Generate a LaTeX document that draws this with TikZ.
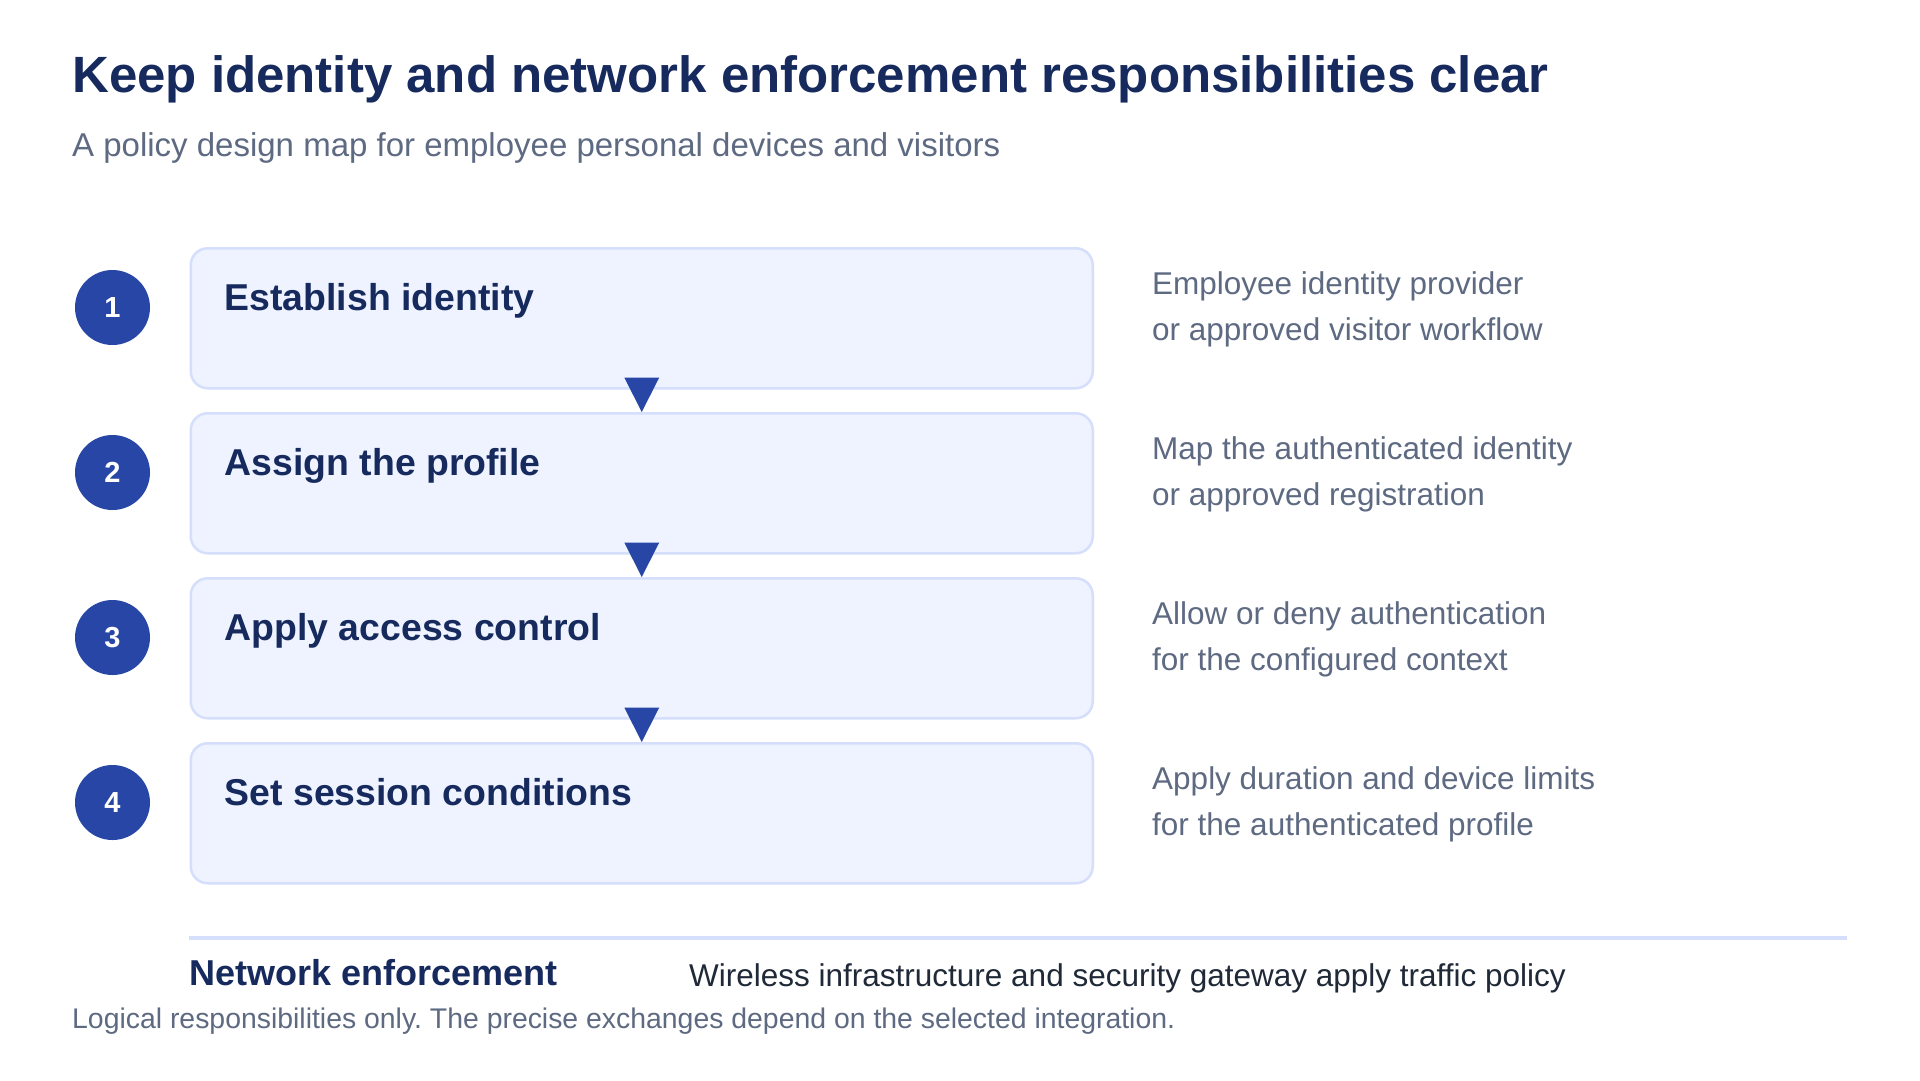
\documentclass[tikz,border=0pt]{standalone}
\usepackage{fontspec}
\setmainfont{Liberation Sans}
\usetikzlibrary{calc}
\frenchspacing
\definecolor{titlecol}{HTML}{172A5E}
\definecolor{subcol}{HTML}{5E6A82}
\definecolor{boxfill}{HTML}{EEF3FF}
\definecolor{boxline}{HTML}{D5DFFC}
\definecolor{accent}{HTML}{2846A6}
\definecolor{bodycol}{HTML}{1F2937}
\tikzset{
  stepbox/.style={draw=boxline, line width=2.5pt, fill=boxfill, rounded corners=17pt,
    minimum width=902pt, minimum height=140pt, anchor=north west, inner sep=0pt},
  numcircle/.style={circle, fill=accent, minimum size=75pt, inner sep=0pt,
    text=white, font=\bfseries\fontsize{29pt}{34pt}\selectfont},
  boxtitle/.style={anchor=base west, inner sep=0pt, text=titlecol,
    font=\bfseries\fontsize{37.4pt}{44pt}\selectfont},
  desc/.style={anchor=base west, inner sep=0pt, text=subcol,
    font=\fontsize{31.5pt}{38pt}\selectfont},
  arrowtri/.style={fill=accent},
  sepline/.style={draw=boxline, line width=3.5pt},
}
\begin{document}
\begin{tikzpicture}[x=1pt,y=-1pt]
\useasboundingbox[fill=white] (0,0) rectangle (1920,1080);

\node[anchor=base west, inner sep=0pt, text=titlecol, font=\bfseries\fontsize{51pt}{60pt}\selectfont]
  (title) at (72,92) {Keep identity and network enforcement responsibilities clear};
\node[anchor=base west, inner sep=0pt, text=subcol, font=\fontsize{33pt}{40pt}\selectfont]
  (subtitle) at (72,156) {A policy design map for employee personal devices and visitors};

% boxes
\node[stepbox] (b1) at (189.5,247) {};
\node[stepbox] (b2) at (189.5,412) {};
\node[stepbox] (b3) at (189.5,577) {};
\node[stepbox] (b4) at (189.5,742) {};

% numbers
\node[numcircle] (c1) at (112.5,307.5) {1};
\node[numcircle] (c2) at (112.5,472.5) {2};
\node[numcircle] (c3) at (112.5,637.5) {3};
\node[numcircle] (c4) at (112.5,802.5) {4};

% titles
\node[boxtitle] (t1) at ($(b1.north west)+(35,63.5)$) {Establish identity};
\node[boxtitle] (t2) at ($(b2.north west)+(35,63.5)$) {Assign the profile};
\node[boxtitle] (t3) at ($(b3.north west)+(35,63.5)$) {Apply access control};
\node[boxtitle] (t4) at ($(b4.north west)+(35,63.5)$) {Set session conditions};

% descriptions
\node[desc] (d1a) at (1152,294.5) {Employee identity provider};
\node[desc] (d1b) at (1152,340.5) {or approved visitor workflow};
\node[desc] (d2a) at (1152,459.5) {Map the authenticated identity};
\node[desc] (d2b) at (1152,505.5) {or approved registration};
\node[desc] (d3a) at (1152,624.5) {Allow or deny authentication};
\node[desc] (d3b) at (1152,670.5) {for the configured context};
\node[desc] (d4a) at (1152,789.5) {Apply duration and device limits};
\node[desc] (d4b) at (1152,835.5) {for the authenticated profile};

% arrow heads between steps
\fill[arrowtri] ($(b1.south)+(-17.5,-12)$) -- ($(b1.south)+(17.5,-12)$) -- (b2.north) -- cycle;
\fill[arrowtri] ($(b2.south)+(-17.5,-12)$) -- ($(b2.south)+(17.5,-12)$) -- (b3.north) -- cycle;
\fill[arrowtri] ($(b3.south)+(-17.5,-12)$) -- ($(b3.south)+(17.5,-12)$) -- (b4.north) -- cycle;

% network enforcement
\coordinate (lineL) at (189,938);
\coordinate (lineR) at (1847,938);
\draw[sepline] (lineL) -- (lineR);
\node[anchor=base west, inner sep=0pt, text=titlecol, font=\bfseries\fontsize{36pt}{42pt}\selectfont]
  (net) at (189,985) {Network enforcement};
\node[anchor=base west, inner sep=0pt, text=bodycol, font=\fontsize{31.5pt}{38pt}\selectfont]
  (netdesc) at (689,986) {Wireless infrastructure and security gateway apply traffic policy};

\node[anchor=base west, inner sep=0pt, text=subcol, font=\fontsize{28.4pt}{34pt}\selectfont]
  (footer) at (72,1028) {Logical responsibilities only. The precise exchanges depend on the selected integration.};
\end{tikzpicture}
\end{document}
